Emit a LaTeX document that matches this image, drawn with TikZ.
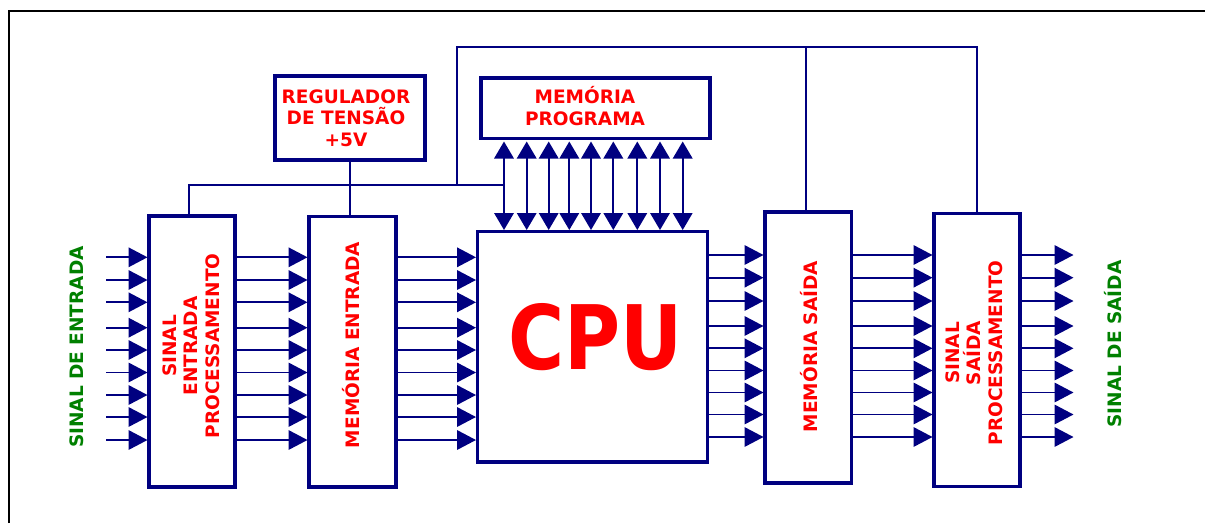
\documentclass[tikz,border=0pt]{standalone}
\usepackage{fontspec}
\setmainfont{DejaVu Sans}
\usetikzlibrary{arrows.meta}
\definecolor{navy}{RGB}{0,0,128}
\definecolor{lred}{RGB}{255,0,0}
\definecolor{lgreen}{RGB}{0,128,0}
\begin{document}
\begin{tikzpicture}[x=1pt,y=-1pt,
 blk/.style={draw=navy,line width=3.3pt,inner sep=0pt,outer sep=0pt},
 wire/.style={draw=navy,line width=1.8pt},
 arr/.style={draw=navy,line width=1.8pt,-{Triangle[length=19pt,width=19.5pt]},shorten >=1.5pt},
 barr/.style={draw=navy,line width=1.8pt,{Triangle[length=17pt,width=19.5pt]}-{Triangle[length=17pt,width=19.5pt]},shorten >=1.5pt,shorten <=3pt},
 rtxt/.style={text=lred,font=\fontsize{18.5}{21.5}\selectfont\bfseries,align=center,inner sep=0pt},
 gtxt/.style={text=lgreen,font=\fontsize{18.5}{21.5}\selectfont\bfseries,inner sep=0pt},
 frm/.style={draw=black,line width=2pt}
]
\useasboundingbox (0,0) rectangle (1205,523);
% frame
\coordinate (fa) at (9,523);
\coordinate (fb) at (9,11);
\coordinate (fc) at (1205,11);
\draw[frm] (fa) -- (fb) -- (fc);

% blocks
\node[blk,minimum width=86pt,minimum height=271pt] (sin) at (192,351.5) {};
\node[blk,minimum width=87pt,minimum height=270.5pt] (men) at (352.5,351.75) {};
\node[blk,minimum width=150pt,minimum height=84pt] (reg) at (350,118) {};
\node[blk,minimum width=229pt,minimum height=60.5pt] (mp) at (595.5,108.25) {};
\node[blk,minimum width=230pt,minimum height=230.5pt] (cpu) at (592.5,346.75) {};
\node[blk,minimum width=86.5pt,minimum height=271pt] (ms) at (808.25,347.5) {};
\node[blk,minimum width=86pt,minimum height=273pt] (ss) at (977,350) {};

% texts
\node[rtxt] (tReg) at (346,118) {REGULADOR\\DE TENSÃO\\+5V};
\node[rtxt] (tMp) at (585,106) {MEMÓRIA\\PROGRAMA};
\node[rtxt,rotate=90] (tSin) at (191,346) {SINAL\\ENTRADA\\PROCESSAMENTO};
\node[rtxt,rotate=90] (tMen) at (351,345) {MEMÓRIA ENTRADA};
\node[rtxt,rotate=90] (tMs) at (809,346.5) {MEMÓRIA SAÍDA};
\node[rtxt,rotate=90] (tSs) at (974,353) {SINAL\\SAÍDA\\PROCESSAMENTO};
\node[gtxt,rotate=90] (tIn) at (76.5,347) {SINAL DE ENTRADA};
\node[gtxt,rotate=90] (tOut) at (1113,344) {SINAL DE SAÍDA};
\node[text=lred,inner sep=0pt,font=\fontsize{89}{89}\selectfont\bfseries] (tCpu) at (595.5,337.5) {\scalebox{0.86}[1]{CPU}};

% power / control wires
\coordinate (bL) at (189,185);
\coordinate (bR) at (504,185);
\coordinate (t1) at (457,185);
\coordinate (t2) at (457,47);
\coordinate (t3) at (977,47);
\coordinate (t4) at (806,47);
\draw[wire] (reg.south) -- (reg.south |- men.north);
\draw[wire] (bL |- sin.north) -- (bL) -- (bR);
\draw[wire] (t1) -- (t2) -- (t3) -- (t3 |- ss.north);
\draw[wire] (t4) -- (t4 |- ms.north);

% program memory bus
\foreach \x in {504,526.7,548.7,569.3,591,613.3,637.3,660,682.7}
  \draw[barr] (\x,0 |- mp.south) -- (\x,0 |- cpu.north);

% input side arrows
\coordinate (inx) at (106,350);
\coordinate (outx) at (1075,350);
\foreach \y in {257.3,280,302.3,327.7,350,372.5,395,417,440}{
  \draw[arr] (inx |- 0,\y) -- (sin.west |- 0,\y);
  \draw[arr] (sin.east |- 0,\y) -- (men.west |- 0,\y);
  \draw[arr] (men.east |- 0,\y) -- (cpu.west |- 0,\y);
}
% output side arrows
\foreach \y in {255,277.7,301,326,348.3,370.5,392.5,414.5,437}{
  \draw[arr] (cpu.east |- 0,\y) -- (ms.west |- 0,\y);
  \draw[arr] (ms.east |- 0,\y) -- (ss.west |- 0,\y);
  \draw[arr] (ss.east |- 0,\y) -- (outx |- 0,\y);
}
\end{tikzpicture}
\end{document}
